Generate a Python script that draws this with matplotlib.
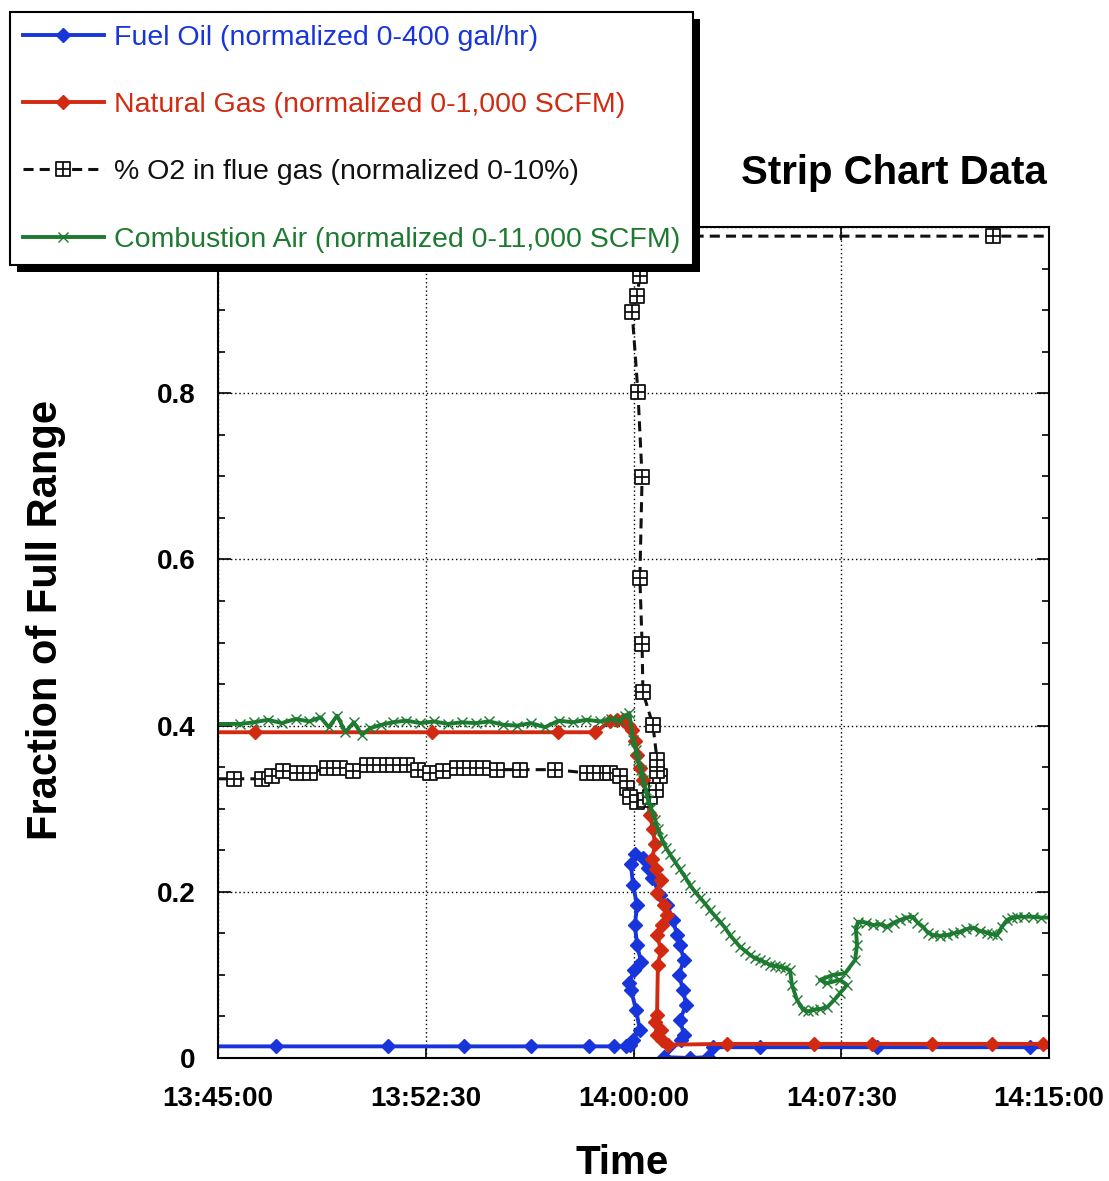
import matplotlib
matplotlib.use("Agg")
import matplotlib.pyplot as plt
from matplotlib.path import Path
from matplotlib.lines import Line2D
from matplotlib.patches import Rectangle
from matplotlib.transforms import IdentityTransform
from matplotlib.ticker import MultipleLocator, FixedLocator

plt.rcParams['font.family'] = ['Liberation Sans', 'DejaVu Sans']

# ---------------- data (time in minutes after 13:45:00, value = fraction of full range)
fuel_oil = [
    (0.00, 0.014), (2.09, 0.014), (6.14, 0.014), (8.88, 0.014), (11.30, 0.014),
    (13.39, 0.014), (14.30, 0.014), (14.73, 0.014), (14.87, 0.016), (14.98, 0.022),
    (15.23, 0.034), (15.09, 0.058), (14.91, 0.082), (14.84, 0.090), (15.02, 0.106),
    (15.27, 0.116), (15.13, 0.136), (15.05, 0.160), (15.13, 0.184), (14.98, 0.208),
    (14.91, 0.233), (15.05, 0.245), (15.34, 0.241), (15.52, 0.229), (15.67, 0.217),
    (15.96, 0.196), (16.21, 0.184), (16.43, 0.166), (16.57, 0.148), (16.68, 0.136),
    (16.82, 0.118), (16.64, 0.100), (16.79, 0.082), (16.90, 0.064), (16.68, 0.046),
    (16.82, 0.028), (16.72, 0.022), (16.10, 0.001), (17.04, 0.000), (17.69, 0.001),
    (17.87, 0.013), (19.57, 0.013), (23.79, 0.013), (29.31, 0.013), (30.00, 0.013),
]
natural_gas = [
    (0.00, 0.392), (1.34, 0.392), (7.73, 0.392), (12.27, 0.392), (13.61, 0.392),
    (14.15, 0.405), (14.40, 0.407), (14.62, 0.407), (14.80, 0.401), (14.95, 0.395),
    (15.05, 0.381), (15.13, 0.365), (15.23, 0.349), (15.34, 0.335), (15.45, 0.317),
    (15.60, 0.293), (15.70, 0.275), (15.78, 0.257), (15.67, 0.239), (15.81, 0.227),
    (15.99, 0.214), (15.85, 0.199), (16.10, 0.184), (16.21, 0.172), (16.03, 0.160),
    (15.85, 0.148), (15.99, 0.130), (15.88, 0.112), (15.85, 0.052), (15.78, 0.043),
    (15.99, 0.034), (15.85, 0.028), (16.03, 0.022), (16.25, 0.016), (18.38, 0.017),
    (21.50, 0.017), (23.61, 0.017), (25.76, 0.017), (27.96, 0.017), (29.77, 0.017),
    (30.00, 0.017),
]
oxygen = [
    (0.00, 0.336), (0.58, 0.336), (1.59, 0.336), (1.95, 0.339), (2.35, 0.345),
    (2.85, 0.343), (3.32, 0.343), (3.94, 0.349), (4.40, 0.349), (4.87, 0.345),
    (5.38, 0.353), (5.85, 0.353), (6.32, 0.353), (6.82, 0.353), (7.22, 0.347),
    (7.65, 0.343), (8.12, 0.345), (8.63, 0.349), (9.10, 0.349), (9.57, 0.349),
    (10.07, 0.347), (10.90, 0.347), (12.17, 0.347), (13.32, 0.343), (13.79, 0.343),
    (14.15, 0.343), (14.51, 0.339), (14.77, 0.325), (14.87, 0.314), (15.13, 0.308),
    (15.42, 0.311), (15.60, 0.314), (15.81, 0.323), (15.96, 0.339), (15.85, 0.345),
    (15.85, 0.359), (15.70, 0.401), (15.34, 0.440), (15.31, 0.498), (15.23, 0.578),
    (15.31, 0.699), (15.16, 0.801), (14.95, 0.898), (15.13, 0.917), (15.23, 0.941),
    (15.42, 0.986), (15.96, 0.989), (27.98, 0.989), (30.00, 0.989),
]
combustion_air = [
    (0.00, 0.402), (0.80, 0.402), (1.30, 0.404), (1.80, 0.407), (2.30, 0.403),
    (2.80, 0.408), (3.30, 0.405), (3.70, 0.410), (4.00, 0.398), (4.30, 0.412),
    (4.60, 0.392), (4.90, 0.404), (5.20, 0.389), (5.50, 0.397), (5.90, 0.401),
    (6.30, 0.404), (6.80, 0.406), (7.30, 0.403), (7.80, 0.405), (8.30, 0.402),
    (8.80, 0.404), (9.30, 0.403), (9.80, 0.405), (10.30, 0.401), (10.80, 0.400),
    (11.30, 0.403), (11.80, 0.398), (12.30, 0.406), (12.80, 0.404), (13.30, 0.407),
    (13.80, 0.405), (14.20, 0.408), (14.50, 0.406), (14.70, 0.412), (14.85, 0.415),
    (14.98, 0.383), (15.09, 0.371), (15.16, 0.359), (15.27, 0.347), (15.34, 0.335),
    (15.45, 0.323), (15.52, 0.311), (15.63, 0.301), (15.78, 0.287), (15.88, 0.275),
    (16.03, 0.263), (16.17, 0.253), (16.32, 0.245), (16.50, 0.236), (16.68, 0.227),
    (16.86, 0.218), (17.04, 0.208), (17.22, 0.200), (17.40, 0.193), (17.58, 0.186),
    (17.76, 0.178), (17.94, 0.171), (18.12, 0.164), (18.30, 0.157), (18.48, 0.148),
    (18.66, 0.141), (18.84, 0.134), (19.03, 0.129), (19.21, 0.124), (19.39, 0.120),
    (19.57, 0.118), (19.75, 0.115), (19.93, 0.112), (20.11, 0.111), (20.29, 0.110),
    (20.47, 0.108), (20.65, 0.106), (20.72, 0.088), (20.90, 0.070), (21.12, 0.058),
    (21.30, 0.056), (21.48, 0.058), (21.73, 0.059), (21.99, 0.061), (22.25, 0.070),
    (22.45, 0.078), (22.71, 0.088), (22.45, 0.094), (21.99, 0.090), (21.73, 0.094),
    (22.20, 0.100), (22.64, 0.102), (23.00, 0.118), (23.07, 0.136), (23.03, 0.154),
    (23.10, 0.164), (23.40, 0.163), (23.65, 0.160), (23.90, 0.161), (24.15, 0.158),
    (24.40, 0.163), (24.62, 0.166), (24.85, 0.169), (25.09, 0.170), (25.25, 0.163),
    (25.45, 0.158), (25.62, 0.151), (25.81, 0.148), (26.05, 0.147), (26.32, 0.148),
    (26.55, 0.150), (26.79, 0.152), (27.02, 0.155), (27.26, 0.157), (27.50, 0.153),
    (27.76, 0.151), (27.95, 0.149), (28.12, 0.148), (28.30, 0.158), (28.48, 0.166),
    (28.66, 0.169), (28.84, 0.170), (29.10, 0.170), (29.42, 0.170), (29.70, 0.169),
    (30.00, 0.169),
]

series_labels = [
    "Fuel Oil (normalized 0-400 gal/hr)",
    "Natural Gas (normalized 0-1,000 SCFM)",
    "% O2 in flue gas (normalized 0-10%)",
    "Combustion Air (normalized 0-11,000 SCFM)",
]
x_ticks = [0, 7.5, 15, 22.5, 30]
x_tick_labels = ["13:45:00", "13:52:30", "14:00:00", "14:07:30", "14:15:00"]
y_ticks = [0, 0.2, 0.4, 0.6, 0.8, 1.0]
y_tick_labels = ["0", "0.2", "0.4", "0.6", "0.8", ""]

# ---------------- styling
BLUE = "#1835dc"
RED = "#d22a10"
BLACK = "#111111"
GREEN = "#1d7a30"

boxplus = Path(
    [(-1, -1), (1, -1), (1, 1), (-1, 1), (-1, -1), (-1, 0), (1, 0), (0, -1), (0, 1)],
    [Path.MOVETO, Path.LINETO, Path.LINETO, Path.LINETO, Path.CLOSEPOLY,
     Path.MOVETO, Path.LINETO, Path.MOVETO, Path.LINETO],
)

styles = [
    dict(color=BLUE, lw=2.8, marker="D", ms=7.5, mec=BLUE, mfc=BLUE),
    dict(color=RED, lw=2.8, marker="D", ms=7.5, mec=RED, mfc=RED),
    dict(color=BLACK, lw=2.2, ls=(0, (3.3, 2.0)), marker=boxplus, ms=10.5, mec=BLACK,
         mfc="white", mew=1.3),
    dict(color=GREEN, lw=2.8, marker="x", ms=7, mec=GREEN, mew=1.0),
]

fig = plt.figure(figsize=(11.09, 11.81), dpi=100)
ax = fig.add_axes([218 / 1109, 1 - 1058 / 1181, (1049 - 218) / 1109, (1058 - 227) / 1181])

all_series = [fuel_oil, natural_gas, oxygen, combustion_air]
for data, st in zip(all_series, styles):
    t = [p[0] for p in data]
    v = [p[1] for p in data]
    ax.plot(t, v, markevery=list(range(1, len(t) - 1)), **st)

ax.set_xlim(0, 30)
ax.set_ylim(0, 1.0)
ax.xaxis.set_major_locator(FixedLocator(x_ticks))
ax.set_xticklabels(x_tick_labels)
ax.yaxis.set_major_locator(FixedLocator(y_ticks))
ax.set_yticklabels(y_tick_labels)
ax.yaxis.set_minor_locator(MultipleLocator(0.05))
ax.tick_params(which="both", direction="in", top=True, right=True, width=1.2, color="black")
ax.tick_params(which="major", length=9)
ax.tick_params(which="minor", length=5)
ax.tick_params(axis="x", which="major", pad=20, labelsize=20)
ax.tick_params(axis="y", which="major", pad=16, labelsize=20)
for lab in ax.get_xticklabels() + ax.get_yticklabels():
    lab.set_fontweight("bold")
for s in ax.spines.values():
    s.set_linewidth(1.5)
ax.set_axisbelow(True)
ax.grid(True, which="major", color="black", linestyle=(0, (1, 2)), linewidth=1.0)

fig.text(894 / 1109, 1 - 173 / 1181, "Strip Chart Data", ha="center", va="center",
         fontsize=29, fontweight="bold")
fig.text(622 / 1109, 1 - 1163 / 1181, "Time", ha="center", va="center",
         fontsize=29, fontweight="bold")
fig.text(46 / 1109, 1 - 620 / 1181, "Fraction of Full Range", ha="center", va="center",
         rotation=90, fontsize=30, fontweight="bold")

handles = [Line2D([], [], **st) for st in styles]
leg = fig.legend(handles, series_labels, loc="upper left",
                 bbox_to_anchor=(10 / 1109, 1 - 12 / 1181), bbox_transform=fig.transFigure,
                 borderaxespad=0, fontsize=20.5, frameon=True, fancybox=False, framealpha=1,
                 edgecolor="black", facecolor="white", handlelength=2.85, handletextpad=0.35,
                 borderpad=0.45, labelspacing=1.45, labelcolor="linecolor")
leg.get_frame().set_linewidth(1.5)
leg.set_zorder(10)

fig.canvas.draw()
bb = leg.get_frame().get_window_extent(fig.canvas.get_renderer())
shadow = Rectangle((bb.x0 + 7, bb.y0 - 7), bb.width, bb.height, transform=IdentityTransform(),
                   facecolor="black", edgecolor="none", zorder=9)
fig.add_artist(shadow)

fig.savefig("out.png", dpi=100)
